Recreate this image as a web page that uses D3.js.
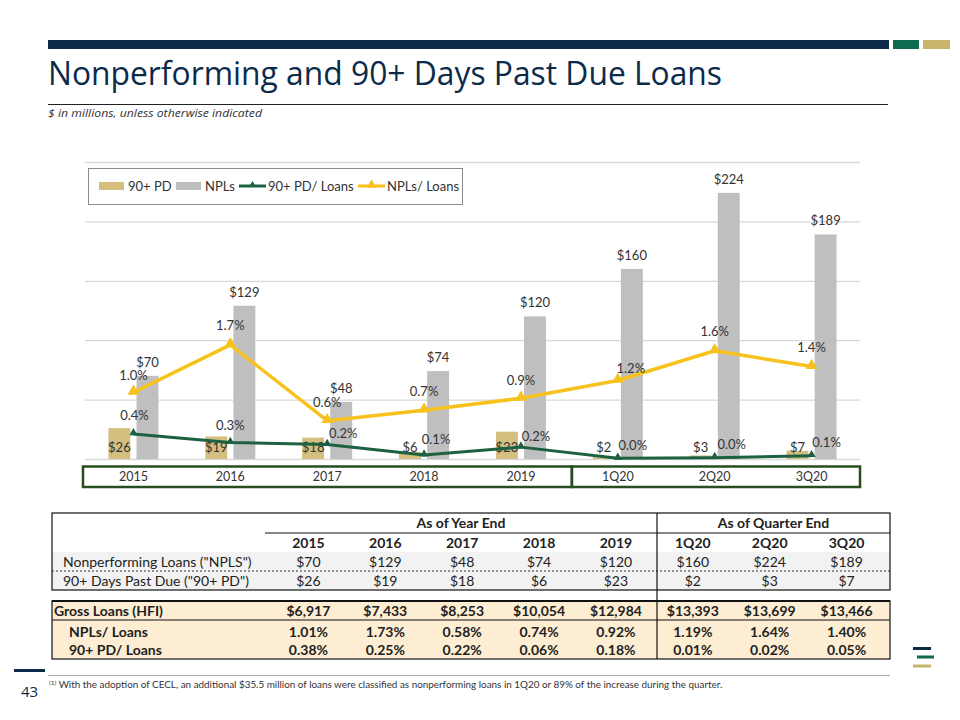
<!DOCTYPE html>
<html>
<head>
<meta charset="utf-8">
<script src="https://cdn.jsdelivr.net/npm/d3@7"></script>
<style>
  html, body { margin: 0; padding: 0; background: #fff; }
  svg { display: block; }
</style>
</head>
<body>
<svg id="chart" width="960" height="720"></svg>
<script>
// ---------------- DATA ----------------
const categories = ["2015", "2016", "2017", "2018", "2019", "1Q20", "2Q20", "3Q20"];
const npls = [70, 129, 48, 74, 120, 160, 224, 189];
const pd90 = [26, 19, 18, 6, 23, 2, 3, 7];
const grossLoans = [6917, 7433, 8253, 10054, 12984, 13393, 13699, 13466];
const nplRatio = [1.01, 1.73, 0.58, 0.74, 0.92, 1.19, 1.64, 1.40];
const pdRatio = [0.38, 0.25, 0.22, 0.06, 0.18, 0.01, 0.02, 0.05];
const yearCats = ["2015", "2016", "2017", "2018", "2019"];
const quarterCats = ["1Q20", "2Q20", "3Q20"];
const seriesNames = ["90+ PD", "NPLs", "90+ PD/ Loans", "NPLs/ Loans"];
const barTicks = [0, 50, 100, 150, 200, 250];
const title = "Nonperforming and 90+ Days Past Due Loans";
const subtitle = "$ in millions, unless otherwise indicated";
const footnote = "With the adoption of CECL, an additional $35.5 million of loans were classified as nonperforming loans in 1Q20 or 89% of the increase during the quarter.";
const pageNumber = "43";

// ---------------- LAYOUT / STYLE (not data) ----------------
const C = {
  navy: "#0c2b4b", green: "#0e6b50", gold: "#c9b46b",
  barGold: "#d3bf80", barGray: "#bfbfbf",
  lineYellow: "#f7c21d", lineGreen: "#1b6142",
  boxGreen: "#274d21", grid: "#d9d9d9", text: "#333"
};
// label offsets relative to line markers (layout only)
const nplLabelOff = [[0,-17],[0,-19],[0,-18],[0,-19],[0,-18],[13,-12],[0,-19],[0,-19]];
const pdLabelOff  = [[1,-18],[0,-17],[16,-11],[12,-16],[15,-11],[15,-13],[17,-13],[15,-13]];

const svg = d3.select("#chart");
const FONT = "Lato, 'Open Sans', sans-serif";

// ---------------- HEADER ----------------
svg.append("rect").attr("x", 48).attr("y", 40).attr("width", 841).attr("height", 9).attr("fill", C.navy);
svg.append("rect").attr("x", 893).attr("y", 40).attr("width", 26).attr("height", 9).attr("fill", C.green);
svg.append("rect").attr("x", 923).attr("y", 40).attr("width", 27).attr("height", 9).attr("fill", C.gold);

svg.append("text").attr("x", 48).attr("y", 85)
  .attr("font-family", "'Open Sans', sans-serif").attr("font-size", 32).attr("fill", C.navy)
  .attr("textLength", 674).attr("lengthAdjust", "spacingAndGlyphs")
  .text(title);
svg.append("line").attr("x1", 48).attr("x2", 888).attr("y1", 104.5).attr("y2", 104.5)
  .attr("stroke", "#222").attr("stroke-width", 1);
svg.append("text").attr("x", 48).attr("y", 117)
  .attr("font-family", "'Open Sans', sans-serif").attr("font-style", "italic").attr("font-size", 11.5)
  .attr("fill", "#333").attr("textLength", 214).attr("lengthAdjust", "spacingAndGlyphs")
  .text(subtitle);

// ---------------- CHART ----------------
const x = d3.scaleBand().domain(categories).range([85, 860]).padding(0);
const xInner = d3.scaleBand().domain(["pd", "npl"]).range([-25, 25]).paddingInner(0.22);
const y = d3.scaleLinear().domain([0, 250]).range([459, 162]);
const y2 = d3.scaleLinear().domain([0, 4.5]).range([459, 162]);
const cx = c => x(c) + x.bandwidth() / 2;

// gridlines via axis
const gridAxis = d3.axisLeft(y).tickValues(barTicks).tickSize(-(860 - 85)).tickFormat("");
const g = svg.append("g").attr("transform", "translate(85,0)").call(gridAxis);
g.select(".domain").remove();
g.selectAll(".tick line").attr("stroke", C.grid).attr("stroke-width", 1.3);

// legend box
const lg = svg.append("g");
lg.append("rect").attr("x", 88.5).attr("y", 168.5).attr("width", 374).attr("height", 36)
  .attr("fill", "#fff").attr("stroke", "#8c8c8c").attr("stroke-width", 1);
const legendItems = [
  { name: seriesNames[0], type: "bar", color: C.barGold, x: 99 },
  { name: seriesNames[1], type: "bar", color: C.barGray, x: 176 },
  { name: seriesNames[2], type: "line", color: C.lineGreen, x: 239 },
  { name: seriesNames[3], type: "line", color: C.lineYellow, x: 358 }
];
legendItems.forEach(it => {
  if (it.type === "bar") {
    lg.append("rect").attr("x", it.x).attr("y", 182).attr("width", 25).attr("height", 8).attr("fill", it.color);
  } else {
    lg.append("line").attr("x1", it.x).attr("x2", it.x + 27).attr("y1", 186).attr("y2", 186)
      .attr("stroke", it.color).attr("stroke-width", 3);
    lg.append("path").attr("d", d3.symbol(d3.symbolTriangle, it.color === C.lineYellow ? 40 : 22)())
      .attr("transform", `translate(${it.x + 13.5},185)`).attr("fill", it.color);
  }
  lg.append("text").attr("x", it.x + 29).attr("y", 190.5)
    .attr("font-family", FONT).attr("font-size", 13).attr("fill", "#333").text(it.name);
});

// bars
const bars = svg.append("g");
bars.selectAll("rect.pd").data(categories).join("rect").attr("class", "pd")
  .attr("x", (c) => cx(c) + xInner("pd")).attr("width", xInner.bandwidth())
  .attr("y", (c, i) => y(pd90[i])).attr("height", (c, i) => y(0) - y(pd90[i]))
  .attr("fill", C.barGold);
bars.selectAll("rect.npl").data(categories).join("rect").attr("class", "npl")
  .attr("x", (c) => cx(c) + xInner("npl")).attr("width", xInner.bandwidth())
  .attr("y", (c, i) => y(npls[i])).attr("height", (c, i) => y(0) - y(npls[i]))
  .attr("fill", C.barGray);

// bar labels
const money = d3.format("$,");
svg.append("g").selectAll("text").data(categories).join("text")
  .attr("x", c => cx(c) + xInner("npl") + xInner.bandwidth() / 2)
  .attr("y", (c, i) => y(npls[i]) - 9)
  .attr("text-anchor", "middle").attr("font-family", FONT).attr("font-size", 13).attr("fill", C.text)
  .text((c, i) => money(npls[i]));
svg.append("g").selectAll("text").data(categories).join("text")
  .attr("x", c => cx(c) + xInner("pd") + xInner.bandwidth() / 2)
  .attr("y", y(0) - 7.5)
  .attr("text-anchor", "middle").attr("font-family", FONT).attr("font-size", 13).attr("fill", C.text)
  .text((c, i) => money(pd90[i]));

// lines
const pct = v => d3.format(".1f")(v) + "%";
function drawLine(vals, color, width, symSize, offs) {
  const pts = categories.map((c, i) => [cx(c), y2(vals[i])]);
  svg.append("path").datum(pts).attr("d", d3.line())
    .attr("fill", "none").attr("stroke", color).attr("stroke-width", width).attr("stroke-linejoin", "round");
  svg.append("g").selectAll("path").data(pts).join("path")
    .attr("d", d3.symbol(d3.symbolTriangle, symSize)())
    .attr("transform", d => `translate(${d[0]},${d[1] - 1})`).attr("fill", color);
  svg.append("g").selectAll("text").data(pts).join("text")
    .attr("x", (d, i) => d[0] + offs[i][0]).attr("y", (d, i) => d[1] + offs[i][1] + 4.5)
    .attr("text-anchor", "middle").attr("font-family", FONT).attr("font-size", 13).attr("fill", C.text)
    .text((d, i) => pct(vals[i]));
}
drawLine(nplRatio, C.lineYellow, 3.5, 60, nplLabelOff);
drawLine(pdRatio, C.lineGreen, 3, 30, pdLabelOff);

// category axis boxes
const boxY = 466.5, boxH = 20.5;
const yLeft = x(yearCats[0]) - 2, yRight = x(quarterCats[0]) + 2.5;
svg.append("rect").attr("x", yLeft).attr("y", boxY).attr("width", yRight - yLeft).attr("height", boxH)
  .attr("fill", "none").attr("stroke", C.boxGreen).attr("stroke-width", 2.5);
svg.append("rect").attr("x", yRight).attr("y", boxY).attr("width", 860 - yRight).attr("height", boxH)
  .attr("fill", "none").attr("stroke", C.boxGreen).attr("stroke-width", 2.5);
const xAxis = d3.axisBottom(x).tickSize(0).tickPadding(0);
const xa = svg.append("g").attr("transform", `translate(0,${boxY + 5})`).call(xAxis);
xa.select(".domain").remove();
xa.selectAll("text").attr("font-family", FONT).attr("font-size", 12.5).attr("fill", "#333")
  .attr("dy", "0.75em");

// ---------------- TABLE ----------------
const tL = 52, tR = 890, tSplit = 657;
const tc = d3.scaleBand().domain(categories).range([270, 885]);
const tcx = c => tc(c) + tc.bandwidth() / 2;
const T = svg.append("g").attr("font-family", FONT).attr("font-size", 14).attr("fill", "#222");

// backgrounds
T.append("rect").attr("x", tL).attr("y", 552).attr("width", tR - tL).attr("height", 38).attr("fill", "#f2f2f2");
T.append("rect").attr("x", tL).attr("y", 601).attr("width", tR - tL).attr("height", 58).attr("fill", "#fdeed3");

// borders
T.append("rect").attr("x", tL).attr("y", 513).attr("width", tR - tL).attr("height", 77)
  .attr("fill", "none").attr("stroke", "#111").attr("stroke-width", 1.2);
T.append("line").attr("x1", 265).attr("x2", tR).attr("y1", 533).attr("y2", 533).attr("stroke", "#111").attr("stroke-width", 1.2);
T.append("line").attr("x1", tL).attr("x2", tR).attr("y1", 571).attr("y2", 571)
  .attr("stroke", "#333").attr("stroke-width", 1).attr("stroke-dasharray", "2,2");
T.append("rect").attr("x", tL).attr("y", 601).attr("width", tR - tL).attr("height", 58)
  .attr("fill", "none").attr("stroke", "#111").attr("stroke-width", 1.2);
T.append("line").attr("x1", tL).attr("x2", tR).attr("y1", 601).attr("y2", 601).attr("stroke", "#111").attr("stroke-width", 2.2);
T.append("line").attr("x1", tL).attr("x2", tR).attr("y1", 620).attr("y2", 620).attr("stroke", "#111").attr("stroke-width", 1.2);
T.append("line").attr("x1", tSplit).attr("x2", tSplit).attr("y1", 513).attr("y2", 659).attr("stroke", "#111").attr("stroke-width", 1.2);

// group headers
T.append("text").attr("x", (265 + tSplit) / 2).attr("y", 528).attr("text-anchor", "middle")
  .attr("font-weight", "bold").text("As of Year End");
T.append("text").attr("x", (tSplit + tR) / 2).attr("y", 528).attr("text-anchor", "middle")
  .attr("font-weight", "bold").text("As of Quarter End");

function rowCells(vals, yPos, fmt, bold) {
  T.append("g").selectAll("text").data(categories).join("text")
    .attr("x", c => tcx(c)).attr("y", yPos).attr("text-anchor", "middle")
    .attr("font-weight", bold ? "bold" : null)
    .text((c, i) => fmt(vals[i]));
}
rowCells(categories, 547.5, d => d, true);
T.append("text").attr("x", 63).attr("y", 566.5).text('Nonperforming Loans ("NPLS")');
rowCells(npls, 566.5, money, false);
T.append("text").attr("x", 63).attr("y", 586).text('90+ Days Past Due ("90+ PD")');
rowCells(pd90, 586, money, false);

const pct2 = v => d3.format(".2f")(v) + "%";
T.append("text").attr("x", 54).attr("y", 616).attr("font-weight", "bold").text("Gross Loans (HFI)");
rowCells(grossLoans, 616, money, true);
T.append("text").attr("x", 69).attr("y", 636.5).attr("font-weight", "bold").text("NPLs/ Loans");
rowCells(nplRatio, 636.5, pct2, true);
T.append("text").attr("x", 69).attr("y", 655).attr("font-weight", "bold").text("90+ PD/ Loans");
rowCells(pdRatio, 655, pct2, true);

// ---------------- FOOTER ----------------
svg.append("rect").attr("x", 14).attr("y", 669).attr("width", 31).attr("height", 3).attr("fill", C.navy);
svg.append("text").attr("x", 21).attr("y", 697).attr("font-family", "'Open Sans', sans-serif")
  .attr("font-size", 15).attr("fill", C.navy).text(pageNumber);
svg.append("line").attr("x1", 48).attr("x2", 890).attr("y1", 675.5).attr("y2", 675.5)
  .attr("stroke", "#aaa").attr("stroke-width", 1);
const fn = svg.append("text").attr("x", 49).attr("y", 688).attr("font-family", FONT)
  .attr("font-size", 9.9).attr("fill", "#333");
fn.append("tspan").attr("font-size", 6.5).attr("dy", -3).text("(1)");
fn.append("tspan").attr("dy", 3).text(" " + footnote);

// logo
svg.append("rect").attr("x", 913).attr("y", 647).attr("width", 18).attr("height", 3).attr("fill", C.navy);
svg.append("rect").attr("x", 917).attr("y", 655.5).attr("width", 17).attr("height", 3).attr("fill", C.green);
svg.append("rect").attr("x", 913).attr("y", 664.5).attr("width", 18).attr("height", 3).attr("fill", C.gold);
</script>
</body>
</html>
